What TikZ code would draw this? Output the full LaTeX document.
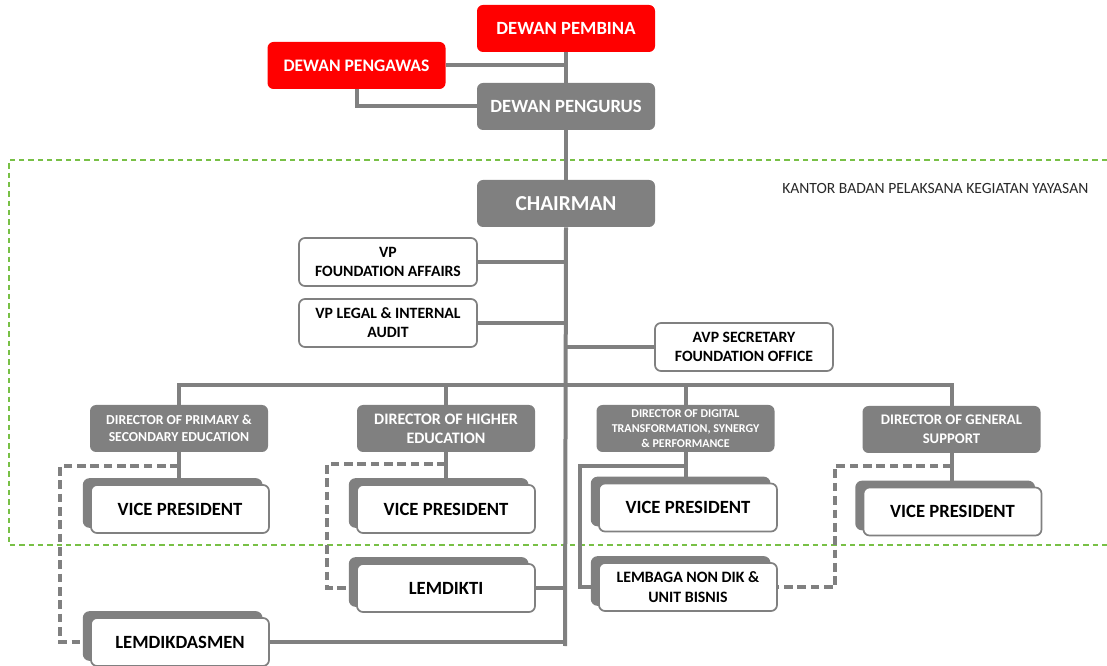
\documentclass[tikz,border=0pt]{standalone}
\usepackage{fontspec}
\setmainfont{Carlito}
\usetikzlibrary{shadows}
\definecolor{boxgray}{RGB}{128,128,128}
\definecolor{boxred}{RGB}{255,0,0}
\definecolor{framegreen}{RGB}{120,192,70}
\definecolor{labelgray}{RGB}{40,40,40}
\begin{document}
\begin{tikzpicture}[x=0.75pt,y=-0.75pt,
  box/.style={rounded corners=4.5pt, minimum width=133.5pt, minimum height=35.25pt, inner sep=1pt, align=center},
  redbox/.style={box, fill=boxred, text=white},
  graybox/.style={box, fill=boxgray, text=white},
  whitebox/.style={box, fill=white, draw=boxgray, line width=1.3pt, text=black, minimum height=36pt},
  cardbox/.style={whitebox, general shadow={fill=boxgray, draw=boxgray, shadow xshift=-5.5pt, shadow yshift=4.5pt}},
  con/.style={draw=boxgray, line width=3pt},
  dashcon/.style={con, dash pattern=on 6.5pt off 3.5pt},
  fbig/.style={font=\bfseries\fontsize{14}{15}\selectfont},
  fchair/.style={font=\bfseries\fontsize{16}{17}\selectfont},
  fmid/.style={font=\bfseries\fontsize{11.8}{14.25}\selectfont},
  fdir/.style={font=\bfseries\fontsize{10.3}{12.75}\selectfont},
  fdirb/.style={font=\bfseries\fontsize{12}{14.25}\selectfont},
  fdirs/.style={font=\bfseries\fontsize{9}{11.25}\selectfont},
]
\useasboundingbox (0,0) rectangle (1107,666);

% office frame
\draw[framegreen, line width=0.8pt, dash pattern=on 4pt off 3pt] (1107,160) -- (9,160) -- (9,545) -- (1107,545);
\node[anchor=east, text=labelgray, font=\fontsize{11.7}{13}\selectfont] (kantor) at (1093,188) {KANTOR BADAN PELAKSANA KEGIATAN YAYASAN};

% top
\node[redbox, fbig] (pembina) at (566,28.5) {DEWAN PEMBINA};
\node[redbox, font=\bfseries\fontsize{13.2}{15}\selectfont] (pengawas) at (356.5,65.5) {DEWAN PENGAWAS};
\node[graybox, fbig] (pengurus) at (566,106.5) {DEWAN PENGURUS};
\node[graybox, fchair] (chairman) at (566,203.5) {CHAIRMAN};

% staff
\node[whitebox, fmid] (vpfa) at (388,262) {VP\\FOUNDATION AFFAIRS};
\node[whitebox, fmid] (vpla) at (388,323) {VP LEGAL \& INTERNAL\\AUDIT};
\node[whitebox, fmid] (avp) at (744,347) {AVP SECRETARY\\FOUNDATION OFFICE};

% directors
\node[graybox, fdir] (d1) at (179,428.5) {DIRECTOR OF PRIMARY \&\\SECONDARY EDUCATION};
\node[graybox, fdirb] (d2) at (446,428.5) {DIRECTOR OF HIGHER\\EDUCATION};
\node[graybox, fdirs] (d3) at (685.5,428.5) {DIRECTOR OF DIGITAL\\TRANSFORMATION, SYNERGY\\\& PERFORMANCE};
\node[graybox, font=\bfseries\fontsize{11}{14}\selectfont] (d4) at (951.5,429.5) {DIRECTOR OF GENERAL\\SUPPORT};

% vice presidents
\node[cardbox, fbig] (vp1) at (180,509) {VICE PRESIDENT};
\node[cardbox, fbig] (vp2) at (446,509) {VICE PRESIDENT};
\node[cardbox, fbig] (vp3) at (688,507.5) {VICE PRESIDENT};
\node[cardbox, fbig] (vp4) at (952.5,511.5) {VICE PRESIDENT};

% institutions
\node[cardbox, fbig] (lemdikti) at (446,588) {LEMDIKTI};
\node[cardbox, font=\bfseries\fontsize{11.9}{15}\selectfont] (lembaga) at (688,587) {LEMBAGA NON DIK \&\\UNIT BISNIS};
\node[cardbox, fbig] (lemdikdasmen) at (180,642) {LEMDIKDASMEN};

% coordinates
\coordinate (bot) at (565,646);
\coordinate (j1) at (179,466);
\coordinate (j2) at (446,464);
\coordinate (j3) at (685.5,466);
\coordinate (j4) at (951.5,466);

% spine
\draw[con] (pembina.south) -- (pengurus.north);
\draw[con] (pengurus.south) -- (chairman.north);
\draw[con] (chairman.south) -- (bot);
\draw[con] (pengawas.east) -- (pengawas.east -| pembina.south);
\draw[con] (pengawas.south) |- (pengurus.west);
\draw[con] (vpfa.east) -- (vpfa.east -| chairman.south);
\draw[con] (vpla.east) -- (vpla.east -| chairman.south);
\draw[con] (avp.west) -- (avp.west -| chairman.south);

% director bus
\draw[con] (d1.north) -- (d1.north |- 0,385) -- (d4.north |- 0,385) -- (d4.north);
\draw[con] (d2.north) -- (d2.north |- 0,385);
\draw[con] (d3.north) -- (d3.north |- 0,385);

% director to VP
\draw[con] (d1.south) -- (vp1.north -| d1.south);
\draw[con] (d2.south) -- (vp2.north -| d2.south);
\draw[con] (d3.south) -- (vp3.north -| d3.south);
\draw[con] (d4.south) -- (vp4.north -| d4.south);

% institutions to spine
\draw[con] (lemdikti.east) -- (lemdikti.east -| bot);
\draw[con] (lemdikdasmen.east) -- (lemdikdasmen.east -| bot);

% director to institutions
\draw[dashcon] (j1) -- (60,466) |- (lemdikdasmen.west);
\draw[dashcon] (j2) -- (327,464) |- (lemdikti.west);
\draw[con] (j3) -- (580,466) |- (lembaga.west);
\draw[dashcon] (j4) -- (835,466) |- (lembaga.east);
\end{tikzpicture}
\end{document}
